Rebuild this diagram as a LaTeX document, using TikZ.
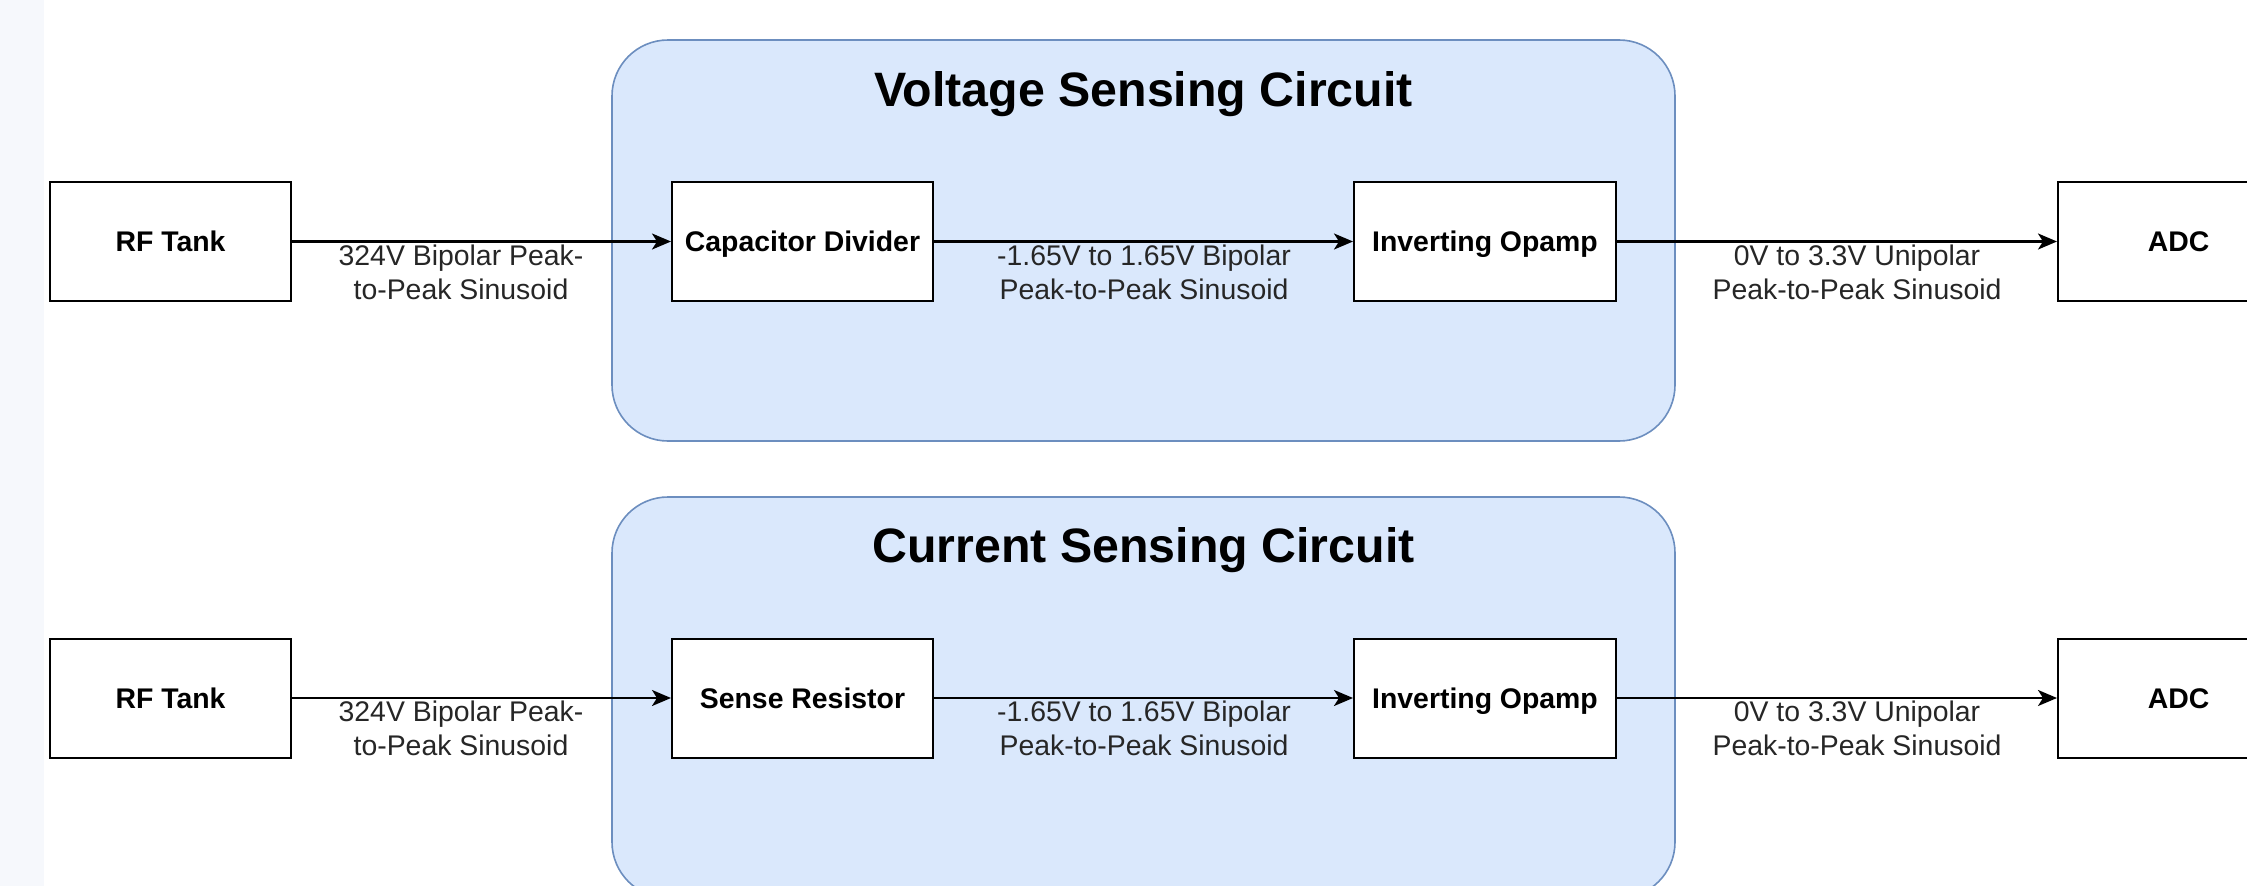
\documentclass[tikz,border=0pt]{standalone}
\usepackage{fontspec}
\setmainfont{Liberation Sans}
\usetikzlibrary{arrows.meta}
\definecolor{grpfill}{HTML}{DAE8FC}
\definecolor{grpdraw}{HTML}{6C8EBF}
\definecolor{stripfill}{HTML}{F6F8FC}
\definecolor{labeltext}{HTML}{262626}
\begin{document}
\begin{tikzpicture}[x=1pt,y=-1pt,
  blk/.style={draw=black, line width=2pt, fill=white, minimum height=119pt, inner sep=0pt,
    text height=20.7pt, text depth=0pt,
    font=\fontsize{28.4}{34}\selectfont\bfseries},
  grp/.style={draw=grpdraw, fill=grpfill, line width=1.6pt, rounded corners=56pt,
    minimum width=1063pt, minimum height=401pt, inner sep=0pt},
  lbl/.style={font=\fontsize{28.4}{34}\selectfont, text=labeltext, align=center, inner sep=0pt, anchor=north},
  ttl/.style={font=\fontsize{48.3}{56}\selectfont\bfseries, inner sep=0pt, anchor=base},
  conn/.style={-{Stealth[length=19pt,width=16pt,inset=5pt]}, line width=2.2pt}
]
\useasboundingbox (0,0) rectangle (2247,886);
\clip (0,0) rectangle (2247,886);
\fill[white] (0,0) rectangle (2247,886);
\fill[stripfill] (0,0) rectangle (44,886);

% ---------- Voltage sensing row ----------
\node[grp] (vgrp) at (1143.5,240.5) {};
\node[ttl] (vtitle) at (1143.5,106) {Voltage Sensing Circuit};
\node[blk, minimum width=241pt] (vrf) at (170.5,241.5) {RF Tank};
\node[blk, minimum width=261pt] (vcap) at (802.5,241.5) {Capacitor Divider};
\node[blk, minimum width=262pt] (vop) at (1485,241.5) {Inverting Opamp};
\node[blk, minimum width=241pt] (vadc) at (2178.5,241.5) {ADC};
\draw[conn] (vrf.east) -- (vcap.west);
\draw[conn] (vcap.east) -- (vop.west);
\draw[conn] (vop.east) -- (vadc.west);
\node[lbl] (vl1) at (461,245) {324V Bipolar Peak-\\to-Peak Sinusoid};
\node[lbl] (vl2) at (1144,245) {-1.65V to 1.65V Bipolar\\Peak-to-Peak Sinusoid};
\node[lbl] (vl3) at (1857,245) {0V to 3.3V Unipolar\\Peak-to-Peak Sinusoid};

% ---------- Current sensing row ----------
\node[grp] (cgrp) at (1143.5,697.5) {};
\node[ttl] (ctitle) at (1143.5,562) {Current Sensing Circuit};
\node[blk, minimum width=241pt] (crf) at (170.5,698) {RF Tank};
\node[blk, minimum width=261pt] (cres) at (802.5,698) {Sense Resistor};
\node[blk, minimum width=262pt] (cop) at (1485,698) {Inverting Opamp};
\node[blk, minimum width=241pt] (cadc) at (2178.5,698) {ADC};
\draw[conn] (crf.east) -- (cres.west);
\draw[conn] (cres.east) -- (cop.west);
\draw[conn] (cop.east) -- (cadc.west);
\node[lbl] (cl1) at (461,701) {324V Bipolar Peak-\\to-Peak Sinusoid};
\node[lbl] (cl2) at (1144,701) {-1.65V to 1.65V Bipolar\\Peak-to-Peak Sinusoid};
\node[lbl] (cl3) at (1857,701) {0V to 3.3V Unipolar\\Peak-to-Peak Sinusoid};
\end{tikzpicture}
\end{document}
